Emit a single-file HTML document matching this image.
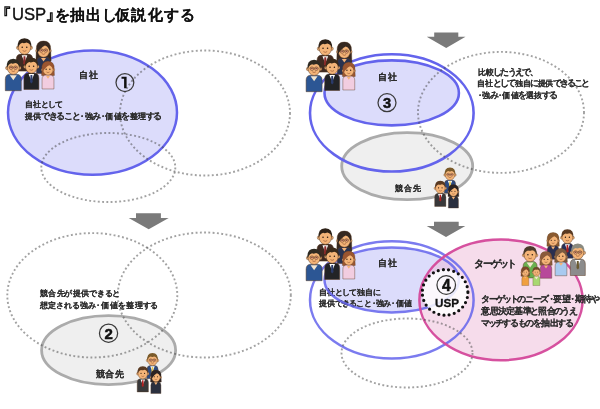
<!DOCTYPE html>
<html><head><meta charset="utf-8"><style>
html,body{margin:0;padding:0;background:#fff;width:600px;height:409px;overflow:hidden}
svg{display:block;font-family:"Liberation Sans", sans-serif;will-change:transform;filter:blur(0.35px)}
</style></head><body>
<svg width="600" height="409" viewBox="0 0 600 409">
<rect width="600" height="409" fill="#fff"/>
<text x="-6.60" y="22.44" font-size="18.5" font-weight="bold" fill="#111">『</text>
<text x="44.87" y="19.56" font-size="18.5" font-weight="bold" fill="#111">』</text>
<text x="12.0" y="20.4" font-size="16.5" fill="#111" font-family="'Liberation Sans', sans-serif" textLength="34.2" lengthAdjust="spacingAndGlyphs" stroke="#111" stroke-width="0.35">USP</text>
<text x="55.03" y="20.3" font-size="14.6" font-weight="bold" fill="#111" stroke="#111" stroke-width="0.08">を</text>
<text x="70.00" y="20.3" font-size="14.6" font-weight="bold" fill="#111" stroke="#111" stroke-width="0.08">抽</text>
<text x="85.90" y="20.3" font-size="14.6" font-weight="bold" fill="#111" stroke="#111" stroke-width="0.08">出</text>
<text x="101.83" y="20.3" font-size="14.6" font-weight="bold" fill="#111" stroke="#111" stroke-width="0.08">し</text>
<text x="115.30" y="20.3" font-size="14.6" font-weight="bold" fill="#111" stroke="#111" stroke-width="0.08">仮</text>
<text x="130.50" y="20.3" font-size="14.6" font-weight="bold" fill="#111" stroke="#111" stroke-width="0.08">説</text>
<text x="148.00" y="20.3" font-size="14.6" font-weight="bold" fill="#111" stroke="#111" stroke-width="0.08">化</text>
<text x="164.13" y="20.3" font-size="14.6" font-weight="bold" fill="#111" stroke="#111" stroke-width="0.08">す</text>
<text x="180.03" y="20.3" font-size="14.6" font-weight="bold" fill="#111" stroke="#111" stroke-width="0.08">る</text>
<ellipse cx="92.5" cy="112.6" rx="84.5" ry="62.2" fill="#dcdcfb" stroke="#6464ec" stroke-width="2.5" />
<ellipse cx="205" cy="113" rx="85" ry="62.5" fill="none" stroke="rgba(70,70,70,0.5)" stroke-width="1.9" stroke-dasharray="1.9 2.4"/>
<ellipse cx="108.3" cy="167.5" rx="67" ry="34.5" fill="none" stroke="rgba(70,70,70,0.5)" stroke-width="1.9" stroke-dasharray="1.9 2.4"/>
<text y="77.89" font-size="9.26" fill="#2c2c2c" stroke="#2c2c2c" stroke-width="0.05" font-weight="bold" ><tspan x="79.00">自</tspan><tspan x="88.63">社</tspan></text>
<text y="107.24" font-size="7.88" fill="#2c2c2c" stroke="#2c2c2c" stroke-width="0.05" font-weight="bold" ><tspan x="25.38">自</tspan><tspan x="33.40">社</tspan><tspan x="40.72" font-size="8.28" dy="0">と</tspan><tspan x="47.93" font-size="8.28" dy="0">し</tspan><tspan x="55.14" font-size="8.28" dy="0">て</tspan></text>
<text y="119.01" font-size="8.45" fill="#2c2c2c" stroke="#2c2c2c" stroke-width="0.05" font-weight="bold" ><tspan x="24.99">提</tspan><tspan x="33.43">供</tspan><tspan x="41.14" font-size="8.87" dy="0">で</tspan><tspan x="48.74" font-size="8.87" dy="0">き</tspan><tspan x="56.33" font-size="8.87" dy="0">る</tspan><tspan x="63.93" font-size="8.87" dy="0">こ</tspan><tspan x="71.53" font-size="8.87" dy="0">と</tspan><tspan x="77.97">・</tspan><tspan x="84.51">強</tspan><tspan x="92.21" font-size="8.87" dy="0">み</tspan><tspan x="98.65">・</tspan><tspan x="105.19">価</tspan><tspan x="113.63">値</tspan><tspan x="121.34" font-size="8.87" dy="0">を</tspan><tspan x="129.67">整</tspan><tspan x="138.12">理</tspan><tspan x="145.82" font-size="8.87" dy="0">す</tspan><tspan x="153.42" font-size="8.87" dy="0">る</tspan></text>
<circle cx="124.9" cy="82.6" r="8.9" fill="none" stroke="#3a3a3a" stroke-width="1.25"/>
<path d="M121.5,76.7 H126.6 V88.3 H124.1 V78.8 H121.5 Z" fill="#111"/>
<g transform="translate(24.50,46.90) scale(1.03)"><path d="M-8.0,23.5 V12 Q-8.0,7 -3.0,7 H3.0 Q8.0,7 8.0,12 V23.5 Z" fill="#3e2a22" stroke="#5a3a22" stroke-width="0.5"/><path d="M-2.8,8 L0,15 L2.8,8 Z" fill="#fff"/><path d="M-0.9,9 H0.9 L1.3,16 L0,17.5 L-1.3,16 Z" fill="#8a2a2a"/><circle cx="-6" cy="0.8" r="1.8" fill="#f4b478" stroke="#5a3a22" stroke-width="0.4"/><circle cx="6" cy="0.8" r="1.8" fill="#f4b478" stroke="#5a3a22" stroke-width="0.4"/><ellipse cx="0" cy="0.5" rx="6" ry="6.8" fill="#f4b478" stroke="#5a3a22" stroke-width="0.5"/><path d="M-6.6,1.5 Q-7.6,-8.5 0,-8.5 Q7.6,-8.5 6.6,1.5 Q6,-3.5 2,-4.2 Q-1,-3 -2,-4 Q-5.5,-3 -6.6,1.5 Z" fill="#2e2218"/><circle cx="-2.2" cy="0.3" r="0.75" fill="#2a1a10"/><circle cx="2.2" cy="0.3" r="0.75" fill="#2a1a10"/><path d="M-1.8,3.6 Q0,5 1.8,3.6" stroke="#8a4a2a" stroke-width="0.6" fill="none"/></g><g transform="translate(43.50,50.00) scale(1.0)"><path d="M-7.2,0 Q-7.8,-9 0,-9 Q7.8,-9 7.2,0 L7.6,11 H-7.6 Z" fill="#352820" stroke="#5a3a22" stroke-width="0.4"/><path d="M-7.0,23.5 V12 Q-7.0,7 -2.0,7 H2.0 Q7.0,7 7.0,12 V23.5 Z" fill="#2a3350" stroke="#5a3a22" stroke-width="0.5"/><path d="M-2.5,8 L0,11.5 L2.5,8 Z" fill="#f4b478"/><circle cx="-6" cy="0.8" r="1.8" fill="#f4b478" stroke="#5a3a22" stroke-width="0.4"/><circle cx="6" cy="0.8" r="1.8" fill="#f4b478" stroke="#5a3a22" stroke-width="0.4"/><ellipse cx="0" cy="0.5" rx="6" ry="6.8" fill="#f4b478" stroke="#5a3a22" stroke-width="0.5"/><path d="M-6.8,4 Q-7.6,-8.8 0,-8.8 Q7.6,-8.8 6.8,4 Q6,-3 1.5,-4.5 Q-3,-2.5 -6.8,4 Z" fill="#352820"/><circle cx="-2.2" cy="0.3" r="0.75" fill="#2a1a10"/><circle cx="2.2" cy="0.3" r="0.75" fill="#2a1a10"/><path d="M-4.5,0 H4.5" stroke="#6a4a2a" stroke-width="0.6"/><circle cx="-2.2" cy="0.5" r="1.8" fill="rgba(255,150,150,0.3)" stroke="#6a4a2a" stroke-width="0.6"/><circle cx="2.2" cy="0.5" r="1.8" fill="rgba(255,150,150,0.3)" stroke="#6a4a2a" stroke-width="0.6"/><path d="M-1.8,3.6 Q0,5 1.8,3.6" stroke="#8a4a2a" stroke-width="0.6" fill="none"/></g><g transform="translate(13.30,67.20) scale(1.0)"><path d="M-8.0,23.5 V12 Q-8.0,7 -3.0,7 H3.0 Q8.0,7 8.0,12 V23.5 Z" fill="#2c5694" stroke="#5a3a22" stroke-width="0.5"/><path d="M-3.5,8 L0,13 L3.5,8 Z" fill="#f4e6d0"/><circle cx="-6" cy="0.8" r="1.8" fill="#f4b478" stroke="#5a3a22" stroke-width="0.4"/><circle cx="6" cy="0.8" r="1.8" fill="#f4b478" stroke="#5a3a22" stroke-width="0.4"/><ellipse cx="0" cy="0.5" rx="6" ry="6.8" fill="#f4b478" stroke="#5a3a22" stroke-width="0.5"/><path d="M-6.6,1.5 Q-7.6,-8.5 0,-8.5 Q7.6,-8.5 6.6,1.5 Q6,-3.5 2,-4.2 Q-1,-3 -2,-4 Q-5.5,-3 -6.6,1.5 Z" fill="#2e2a22"/><circle cx="-2.2" cy="0.3" r="0.75" fill="#2a1a10"/><circle cx="2.2" cy="0.3" r="0.75" fill="#2a1a10"/><path d="M-4.5,0 H4.5" stroke="#6a4a2a" stroke-width="0.6"/><circle cx="-2.2" cy="0.5" r="1.8" fill="rgba(255,150,150,0.3)" stroke="#6a4a2a" stroke-width="0.6"/><circle cx="2.2" cy="0.5" r="1.8" fill="rgba(255,150,150,0.3)" stroke="#6a4a2a" stroke-width="0.6"/><path d="M-1.8,3.6 Q0,5 1.8,3.6" stroke="#8a4a2a" stroke-width="0.6" fill="none"/></g><g transform="translate(31.40,66.00) scale(1.0)"><path d="M-7.5,23.5 V12 Q-7.5,7 -2.5,7 H2.5 Q7.5,7 7.5,12 V23.5 Z" fill="#222326" stroke="#5a3a22" stroke-width="0.5"/><path d="M-2.8,8 L0,15 L2.8,8 Z" fill="#fff"/><path d="M-0.9,9 H0.9 L1.3,16 L0,17.5 L-1.3,16 Z" fill="#2a3a6a"/><circle cx="-6" cy="0.8" r="1.8" fill="#f4b478" stroke="#5a3a22" stroke-width="0.4"/><circle cx="6" cy="0.8" r="1.8" fill="#f4b478" stroke="#5a3a22" stroke-width="0.4"/><ellipse cx="0" cy="0.5" rx="6" ry="6.8" fill="#f4b478" stroke="#5a3a22" stroke-width="0.5"/><path d="M-6.6,1.5 Q-7.6,-8.5 0,-8.5 Q7.6,-8.5 6.6,1.5 Q6,-3.5 2,-4.2 Q-1,-3 -2,-4 Q-5.5,-3 -6.6,1.5 Z" fill="#3a2a1a"/><circle cx="-2.2" cy="0.3" r="0.75" fill="#2a1a10"/><circle cx="2.2" cy="0.3" r="0.75" fill="#2a1a10"/><path d="M-1.8,3.6 Q0,5 1.8,3.6" stroke="#8a4a2a" stroke-width="0.6" fill="none"/></g><g transform="translate(48.00,69.00) scale(0.85)"><path d="M-7.2,0 Q-7.8,-9 0,-9 Q7.8,-9 7.2,0 L7.6,7.5 Q0,9 -7.6,7.5 Z" fill="#9a5530" stroke="#5a3a22" stroke-width="0.4"/><path d="M-7.0,23.5 V12 Q-7.0,7 -2.0,7 H2.0 Q7.0,7 7.0,12 V23.5 Z" fill="#f2cde0" stroke="#5a3a22" stroke-width="0.5"/><path d="M-2.5,8 L0,11.5 L2.5,8 Z" fill="#f4b478"/><circle cx="-6" cy="0.8" r="1.8" fill="#f4b478" stroke="#5a3a22" stroke-width="0.4"/><circle cx="6" cy="0.8" r="1.8" fill="#f4b478" stroke="#5a3a22" stroke-width="0.4"/><ellipse cx="0" cy="0.5" rx="6" ry="6.8" fill="#f4b478" stroke="#5a3a22" stroke-width="0.5"/><path d="M-6.8,4 Q-7.6,-8.8 0,-8.8 Q7.6,-8.8 6.8,4 Q6,-3 1.5,-4.5 Q-3,-2.5 -6.8,4 Z" fill="#9a5530"/><circle cx="-2.2" cy="0.3" r="0.75" fill="#2a1a10"/><circle cx="2.2" cy="0.3" r="0.75" fill="#2a1a10"/><path d="M-1.8,3.6 Q0,5 1.8,3.6" stroke="#8a4a2a" stroke-width="0.6" fill="none"/></g>
<path d="M434.2,32.5 H458.3 V36.7 H465.5 L446.2,48 L426.7,36.7 H434.2 Z" fill="#7a7a7a"/>
<path d="M136,213.3 H160.9 V218 H168.7 L148.7,229.3 L128.7,218 H136 Z" fill="#7a7a7a"/>
<path d="M434,221.7 H458.7 V226 H465.3 L446,237 L426.7,226 H434 Z" fill="#7a7a7a"/>
<ellipse cx="407.2" cy="166.2" rx="65.5" ry="33.5" fill="#efefef" stroke="#ababab" stroke-width="2.8" />
<ellipse cx="391.7" cy="92.9" rx="67.2" ry="32.5" fill="#dcdcfb" stroke="#6464ec" stroke-width="2.6" />
<ellipse cx="391.8" cy="112.9" rx="81.8" ry="58.6" fill="none" stroke="#6464ec" stroke-width="2.6" />
<ellipse cx="501" cy="112.4" rx="83" ry="60.5" fill="none" stroke="rgba(70,70,70,0.5)" stroke-width="1.9" stroke-dasharray="1.9 2.4"/>
<text y="79.88" font-size="9.49" fill="#2c2c2c" stroke="#2c2c2c" stroke-width="0.05" font-weight="bold" ><tspan x="377.80">自</tspan><tspan x="387.56">社</tspan></text>
<circle cx="387" cy="102.7" r="9.0" fill="none" stroke="#3a3a3a" stroke-width="1.25"/><text x="387" y="107.96" font-size="14.6" font-weight="bold" text-anchor="middle" fill="#111" stroke="#111" stroke-width="0.5" font-family="'Liberation Sans', sans-serif">3</text>
<text y="191.26" font-size="8.26" fill="#2c2c2c" stroke="#2c2c2c" stroke-width="0.05" font-weight="bold" ><tspan x="394.74">競</tspan><tspan x="404.12">合</tspan><tspan x="413.49">先</tspan></text>
<text y="75.12" font-size="8.33" fill="#2c2c2c" stroke="#2c2c2c" stroke-width="0.05" font-weight="bold" ><tspan x="477.59">比</tspan><tspan x="485.66">較</tspan><tspan x="493.03" font-size="8.75" dy="0">し</tspan><tspan x="500.29" font-size="8.75" dy="0">た</tspan><tspan x="507.56" font-size="8.75" dy="0">う</tspan><tspan x="514.83" font-size="8.75" dy="0">え</tspan><tspan x="522.10" font-size="8.75" dy="0">で</tspan><tspan x="529.80">、</tspan></text>
<text y="86.31" font-size="8.45" fill="#2c2c2c" stroke="#2c2c2c" stroke-width="0.05" font-weight="bold" ><tspan x="477.45">自</tspan><tspan x="485.36">社</tspan><tspan x="492.55" font-size="8.87" dy="0">と</tspan><tspan x="499.67" font-size="8.87" dy="0">し</tspan><tspan x="506.78" font-size="8.87" dy="0">て</tspan><tspan x="514.60">独</tspan><tspan x="522.51">自</tspan><tspan x="529.70" font-size="8.87" dy="0">に</tspan><tspan x="537.53">提</tspan><tspan x="545.43">供</tspan><tspan x="552.62" font-size="8.87" dy="0">で</tspan><tspan x="559.74" font-size="8.87" dy="0">き</tspan><tspan x="566.85" font-size="8.87" dy="0">る</tspan><tspan x="573.96" font-size="8.87" dy="0">こ</tspan><tspan x="581.08" font-size="8.87" dy="0">と</tspan></text>
<text y="98.13" font-size="8.11" fill="#2c2c2c" stroke="#2c2c2c" stroke-width="0.05" font-weight="bold" ><tspan x="475.91">・</tspan><tspan x="482.26">強</tspan><tspan x="489.74" font-size="8.51" dy="0">み</tspan><tspan x="495.98">・</tspan><tspan x="502.33">価</tspan><tspan x="510.53">値</tspan><tspan x="518.01" font-size="8.51" dy="0">を</tspan><tspan x="526.10">選</tspan><tspan x="534.29">抜</tspan><tspan x="541.77" font-size="8.51" dy="0">す</tspan><tspan x="549.15" font-size="8.51" dy="0">る</tspan></text>
<g transform="translate(325.30,47.90) scale(1.03)"><path d="M-8.0,23.5 V12 Q-8.0,7 -3.0,7 H3.0 Q8.0,7 8.0,12 V23.5 Z" fill="#3e2a22" stroke="#5a3a22" stroke-width="0.5"/><path d="M-2.8,8 L0,15 L2.8,8 Z" fill="#fff"/><path d="M-0.9,9 H0.9 L1.3,16 L0,17.5 L-1.3,16 Z" fill="#8a2a2a"/><circle cx="-6" cy="0.8" r="1.8" fill="#f4b478" stroke="#5a3a22" stroke-width="0.4"/><circle cx="6" cy="0.8" r="1.8" fill="#f4b478" stroke="#5a3a22" stroke-width="0.4"/><ellipse cx="0" cy="0.5" rx="6" ry="6.8" fill="#f4b478" stroke="#5a3a22" stroke-width="0.5"/><path d="M-6.6,1.5 Q-7.6,-8.5 0,-8.5 Q7.6,-8.5 6.6,1.5 Q6,-3.5 2,-4.2 Q-1,-3 -2,-4 Q-5.5,-3 -6.6,1.5 Z" fill="#2e2218"/><circle cx="-2.2" cy="0.3" r="0.75" fill="#2a1a10"/><circle cx="2.2" cy="0.3" r="0.75" fill="#2a1a10"/><path d="M-1.8,3.6 Q0,5 1.8,3.6" stroke="#8a4a2a" stroke-width="0.6" fill="none"/></g><g transform="translate(344.30,51.00) scale(1.0)"><path d="M-7.2,0 Q-7.8,-9 0,-9 Q7.8,-9 7.2,0 L7.6,11 H-7.6 Z" fill="#352820" stroke="#5a3a22" stroke-width="0.4"/><path d="M-7.0,23.5 V12 Q-7.0,7 -2.0,7 H2.0 Q7.0,7 7.0,12 V23.5 Z" fill="#2a3350" stroke="#5a3a22" stroke-width="0.5"/><path d="M-2.5,8 L0,11.5 L2.5,8 Z" fill="#f4b478"/><circle cx="-6" cy="0.8" r="1.8" fill="#f4b478" stroke="#5a3a22" stroke-width="0.4"/><circle cx="6" cy="0.8" r="1.8" fill="#f4b478" stroke="#5a3a22" stroke-width="0.4"/><ellipse cx="0" cy="0.5" rx="6" ry="6.8" fill="#f4b478" stroke="#5a3a22" stroke-width="0.5"/><path d="M-6.8,4 Q-7.6,-8.8 0,-8.8 Q7.6,-8.8 6.8,4 Q6,-3 1.5,-4.5 Q-3,-2.5 -6.8,4 Z" fill="#352820"/><circle cx="-2.2" cy="0.3" r="0.75" fill="#2a1a10"/><circle cx="2.2" cy="0.3" r="0.75" fill="#2a1a10"/><path d="M-4.5,0 H4.5" stroke="#6a4a2a" stroke-width="0.6"/><circle cx="-2.2" cy="0.5" r="1.8" fill="rgba(255,150,150,0.3)" stroke="#6a4a2a" stroke-width="0.6"/><circle cx="2.2" cy="0.5" r="1.8" fill="rgba(255,150,150,0.3)" stroke="#6a4a2a" stroke-width="0.6"/><path d="M-1.8,3.6 Q0,5 1.8,3.6" stroke="#8a4a2a" stroke-width="0.6" fill="none"/></g><g transform="translate(314.10,68.20) scale(1.0)"><path d="M-8.0,23.5 V12 Q-8.0,7 -3.0,7 H3.0 Q8.0,7 8.0,12 V23.5 Z" fill="#2c5694" stroke="#5a3a22" stroke-width="0.5"/><path d="M-3.5,8 L0,13 L3.5,8 Z" fill="#f4e6d0"/><circle cx="-6" cy="0.8" r="1.8" fill="#f4b478" stroke="#5a3a22" stroke-width="0.4"/><circle cx="6" cy="0.8" r="1.8" fill="#f4b478" stroke="#5a3a22" stroke-width="0.4"/><ellipse cx="0" cy="0.5" rx="6" ry="6.8" fill="#f4b478" stroke="#5a3a22" stroke-width="0.5"/><path d="M-6.6,1.5 Q-7.6,-8.5 0,-8.5 Q7.6,-8.5 6.6,1.5 Q6,-3.5 2,-4.2 Q-1,-3 -2,-4 Q-5.5,-3 -6.6,1.5 Z" fill="#2e2a22"/><circle cx="-2.2" cy="0.3" r="0.75" fill="#2a1a10"/><circle cx="2.2" cy="0.3" r="0.75" fill="#2a1a10"/><path d="M-4.5,0 H4.5" stroke="#6a4a2a" stroke-width="0.6"/><circle cx="-2.2" cy="0.5" r="1.8" fill="rgba(255,150,150,0.3)" stroke="#6a4a2a" stroke-width="0.6"/><circle cx="2.2" cy="0.5" r="1.8" fill="rgba(255,150,150,0.3)" stroke="#6a4a2a" stroke-width="0.6"/><path d="M-1.8,3.6 Q0,5 1.8,3.6" stroke="#8a4a2a" stroke-width="0.6" fill="none"/></g><g transform="translate(332.20,67.00) scale(1.0)"><path d="M-7.5,23.5 V12 Q-7.5,7 -2.5,7 H2.5 Q7.5,7 7.5,12 V23.5 Z" fill="#222326" stroke="#5a3a22" stroke-width="0.5"/><path d="M-2.8,8 L0,15 L2.8,8 Z" fill="#fff"/><path d="M-0.9,9 H0.9 L1.3,16 L0,17.5 L-1.3,16 Z" fill="#2a3a6a"/><circle cx="-6" cy="0.8" r="1.8" fill="#f4b478" stroke="#5a3a22" stroke-width="0.4"/><circle cx="6" cy="0.8" r="1.8" fill="#f4b478" stroke="#5a3a22" stroke-width="0.4"/><ellipse cx="0" cy="0.5" rx="6" ry="6.8" fill="#f4b478" stroke="#5a3a22" stroke-width="0.5"/><path d="M-6.6,1.5 Q-7.6,-8.5 0,-8.5 Q7.6,-8.5 6.6,1.5 Q6,-3.5 2,-4.2 Q-1,-3 -2,-4 Q-5.5,-3 -6.6,1.5 Z" fill="#3a2a1a"/><circle cx="-2.2" cy="0.3" r="0.75" fill="#2a1a10"/><circle cx="2.2" cy="0.3" r="0.75" fill="#2a1a10"/><path d="M-1.8,3.6 Q0,5 1.8,3.6" stroke="#8a4a2a" stroke-width="0.6" fill="none"/></g><g transform="translate(348.80,70.00) scale(0.85)"><path d="M-7.2,0 Q-7.8,-9 0,-9 Q7.8,-9 7.2,0 L7.6,7.5 Q0,9 -7.6,7.5 Z" fill="#9a5530" stroke="#5a3a22" stroke-width="0.4"/><path d="M-7.0,23.5 V12 Q-7.0,7 -2.0,7 H2.0 Q7.0,7 7.0,12 V23.5 Z" fill="#f2cde0" stroke="#5a3a22" stroke-width="0.5"/><path d="M-2.5,8 L0,11.5 L2.5,8 Z" fill="#f4b478"/><circle cx="-6" cy="0.8" r="1.8" fill="#f4b478" stroke="#5a3a22" stroke-width="0.4"/><circle cx="6" cy="0.8" r="1.8" fill="#f4b478" stroke="#5a3a22" stroke-width="0.4"/><ellipse cx="0" cy="0.5" rx="6" ry="6.8" fill="#f4b478" stroke="#5a3a22" stroke-width="0.5"/><path d="M-6.8,4 Q-7.6,-8.8 0,-8.8 Q7.6,-8.8 6.8,4 Q6,-3 1.5,-4.5 Q-3,-2.5 -6.8,4 Z" fill="#9a5530"/><circle cx="-2.2" cy="0.3" r="0.75" fill="#2a1a10"/><circle cx="2.2" cy="0.3" r="0.75" fill="#2a1a10"/><path d="M-1.8,3.6 Q0,5 1.8,3.6" stroke="#8a4a2a" stroke-width="0.6" fill="none"/></g>
<g transform="translate(450.00,174.30) scale(0.8)"><path d="M-7.0,23.5 V12 Q-7.0,7 -2.0,7 H2.0 Q7.0,7 7.0,12 V23.5 Z" fill="#2c4a80" stroke="#5a3a22" stroke-width="0.5"/><path d="M-2.8,8 L0,15 L2.8,8 Z" fill="#fff"/><path d="M-0.9,9 H0.9 L1.3,16 L0,17.5 L-1.3,16 Z" fill="#e8c850"/><circle cx="-6" cy="0.8" r="1.8" fill="#f4b478" stroke="#5a3a22" stroke-width="0.4"/><circle cx="6" cy="0.8" r="1.8" fill="#f4b478" stroke="#5a3a22" stroke-width="0.4"/><ellipse cx="0" cy="0.5" rx="6" ry="6.8" fill="#f4b478" stroke="#5a3a22" stroke-width="0.5"/><path d="M-6.6,1.5 Q-7.6,-8.5 0,-8.5 Q7.6,-8.5 6.6,1.5 Q6,-3.5 2,-4.2 Q-1,-3 -2,-4 Q-5.5,-3 -6.6,1.5 Z" fill="#7a5a2a"/><circle cx="-2.2" cy="0.3" r="0.75" fill="#2a1a10"/><circle cx="2.2" cy="0.3" r="0.75" fill="#2a1a10"/><path d="M-4.5,0 H4.5" stroke="#6a4a2a" stroke-width="0.6"/><circle cx="-2.2" cy="0.5" r="1.8" fill="rgba(255,150,150,0.3)" stroke="#6a4a2a" stroke-width="0.6"/><circle cx="2.2" cy="0.5" r="1.8" fill="rgba(255,150,150,0.3)" stroke="#6a4a2a" stroke-width="0.6"/><path d="M-1.8,3.6 Q0,5 1.8,3.6" stroke="#8a4a2a" stroke-width="0.6" fill="none"/></g><g transform="translate(440.30,187.60) scale(0.8)"><path d="M-7.0,23.5 V12 Q-7.0,7 -2.0,7 H2.0 Q7.0,7 7.0,12 V23.5 Z" fill="#38383a" stroke="#5a3a22" stroke-width="0.5"/><path d="M-2.8,8 L0,15 L2.8,8 Z" fill="#fff"/><path d="M-0.9,9 H0.9 L1.3,16 L0,17.5 L-1.3,16 Z" fill="#b02020"/><circle cx="-6" cy="0.8" r="1.8" fill="#f4b478" stroke="#5a3a22" stroke-width="0.4"/><circle cx="6" cy="0.8" r="1.8" fill="#f4b478" stroke="#5a3a22" stroke-width="0.4"/><ellipse cx="0" cy="0.5" rx="6" ry="6.8" fill="#f4b478" stroke="#5a3a22" stroke-width="0.5"/><path d="M-6.6,1.5 Q-7.6,-8.5 0,-8.5 Q7.6,-8.5 6.6,1.5 Q6,-3.5 2,-4.2 Q-1,-3 -2,-4 Q-5.5,-3 -6.6,1.5 Z" fill="#5a3a22"/><circle cx="-2.2" cy="0.3" r="0.75" fill="#2a1a10"/><circle cx="2.2" cy="0.3" r="0.75" fill="#2a1a10"/><path d="M-1.8,3.6 Q0,5 1.8,3.6" stroke="#8a4a2a" stroke-width="0.6" fill="none"/></g><g transform="translate(453.40,191.10) scale(0.72)"><path d="M-7.2,0 Q-7.8,-9 0,-9 Q7.8,-9 7.2,0 L7.6,7.5 Q0,9 -7.6,7.5 Z" fill="#2a2222" stroke="#5a3a22" stroke-width="0.4"/><path d="M-7.0,23.5 V12 Q-7.0,7 -2.0,7 H2.0 Q7.0,7 7.0,12 V23.5 Z" fill="#2a2f3e" stroke="#5a3a22" stroke-width="0.5"/><path d="M-2.5,8 L0,11.5 L2.5,8 Z" fill="#f4b478"/><circle cx="-6" cy="0.8" r="1.8" fill="#f4b478" stroke="#5a3a22" stroke-width="0.4"/><circle cx="6" cy="0.8" r="1.8" fill="#f4b478" stroke="#5a3a22" stroke-width="0.4"/><ellipse cx="0" cy="0.5" rx="6" ry="6.8" fill="#f4b478" stroke="#5a3a22" stroke-width="0.5"/><path d="M-6.8,4 Q-7.6,-8.8 0,-8.8 Q7.6,-8.8 6.8,4 Q6,-3 1.5,-4.5 Q-3,-2.5 -6.8,4 Z" fill="#2a2222"/><circle cx="-2.2" cy="0.3" r="0.75" fill="#2a1a10"/><circle cx="2.2" cy="0.3" r="0.75" fill="#2a1a10"/><path d="M-1.8,3.6 Q0,5 1.8,3.6" stroke="#8a4a2a" stroke-width="0.6" fill="none"/></g>
<ellipse cx="108.6" cy="350.2" rx="67" ry="34.5" fill="#efefef" stroke="#ababab" stroke-width="2.8" />
<ellipse cx="92.3" cy="295.3" rx="85" ry="62.2" fill="none" stroke="rgba(70,70,70,0.5)" stroke-width="1.9" stroke-dasharray="1.9 2.4"/>
<ellipse cx="204.3" cy="295" rx="86.5" ry="62.5" fill="none" stroke="rgba(70,70,70,0.5)" stroke-width="1.9" stroke-dasharray="1.9 2.4"/>
<text y="296.04" font-size="7.88" fill="#2c2c2c" stroke="#2c2c2c" stroke-width="0.05" font-weight="bold" ><tspan x="39.61">競</tspan><tspan x="48.14">合</tspan><tspan x="56.67">先</tspan><tspan x="64.48" font-size="8.28" dy="0">が</tspan><tspan x="72.87">提</tspan><tspan x="81.40">供</tspan><tspan x="89.21" font-size="8.28" dy="0">で</tspan><tspan x="96.89" font-size="8.28" dy="0">き</tspan><tspan x="104.56" font-size="8.28" dy="0">る</tspan><tspan x="112.24" font-size="8.28" dy="0">と</tspan></text>
<text y="307.54" font-size="7.88" fill="#2c2c2c" stroke="#2c2c2c" stroke-width="0.05" font-weight="bold" ><tspan x="39.64">想</tspan><tspan x="48.24">定</tspan><tspan x="56.12" font-size="8.28" dy="0">さ</tspan><tspan x="63.86" font-size="8.28" dy="0">れ</tspan><tspan x="71.60" font-size="8.28" dy="0">る</tspan><tspan x="80.07">強</tspan><tspan x="87.95" font-size="8.28" dy="0">み</tspan><tspan x="94.48">・</tspan><tspan x="101.14">価</tspan><tspan x="109.75">値</tspan><tspan x="117.62" font-size="8.28" dy="0">を</tspan><tspan x="126.09">整</tspan><tspan x="134.69">理</tspan><tspan x="142.57" font-size="8.28" dy="0">す</tspan><tspan x="150.31" font-size="8.28" dy="0">る</tspan></text>
<circle cx="108.55" cy="333.2" r="9.1" fill="none" stroke="#3a3a3a" stroke-width="1.25"/><text x="108.55" y="339.00" font-size="15.0" font-weight="bold" text-anchor="middle" fill="#111" stroke="#111" stroke-width="0.5" font-family="'Liberation Sans', sans-serif">2</text>
<text y="376.51" font-size="9.05" fill="#2c2c2c" stroke="#2c2c2c" stroke-width="0.05" font-weight="bold" ><tspan x="95.85">競</tspan><tspan x="105.22">合</tspan><tspan x="114.60">先</tspan></text>
<g transform="translate(152.50,359.80) scale(0.8)"><path d="M-7.0,23.5 V12 Q-7.0,7 -2.0,7 H2.0 Q7.0,7 7.0,12 V23.5 Z" fill="#2c4a80" stroke="#5a3a22" stroke-width="0.5"/><path d="M-2.8,8 L0,15 L2.8,8 Z" fill="#fff"/><path d="M-0.9,9 H0.9 L1.3,16 L0,17.5 L-1.3,16 Z" fill="#e8c850"/><circle cx="-6" cy="0.8" r="1.8" fill="#f4b478" stroke="#5a3a22" stroke-width="0.4"/><circle cx="6" cy="0.8" r="1.8" fill="#f4b478" stroke="#5a3a22" stroke-width="0.4"/><ellipse cx="0" cy="0.5" rx="6" ry="6.8" fill="#f4b478" stroke="#5a3a22" stroke-width="0.5"/><path d="M-6.6,1.5 Q-7.6,-8.5 0,-8.5 Q7.6,-8.5 6.6,1.5 Q6,-3.5 2,-4.2 Q-1,-3 -2,-4 Q-5.5,-3 -6.6,1.5 Z" fill="#7a5a2a"/><circle cx="-2.2" cy="0.3" r="0.75" fill="#2a1a10"/><circle cx="2.2" cy="0.3" r="0.75" fill="#2a1a10"/><path d="M-4.5,0 H4.5" stroke="#6a4a2a" stroke-width="0.6"/><circle cx="-2.2" cy="0.5" r="1.8" fill="rgba(255,150,150,0.3)" stroke="#6a4a2a" stroke-width="0.6"/><circle cx="2.2" cy="0.5" r="1.8" fill="rgba(255,150,150,0.3)" stroke="#6a4a2a" stroke-width="0.6"/><path d="M-1.8,3.6 Q0,5 1.8,3.6" stroke="#8a4a2a" stroke-width="0.6" fill="none"/></g><g transform="translate(142.80,373.10) scale(0.8)"><path d="M-7.0,23.5 V12 Q-7.0,7 -2.0,7 H2.0 Q7.0,7 7.0,12 V23.5 Z" fill="#38383a" stroke="#5a3a22" stroke-width="0.5"/><path d="M-2.8,8 L0,15 L2.8,8 Z" fill="#fff"/><path d="M-0.9,9 H0.9 L1.3,16 L0,17.5 L-1.3,16 Z" fill="#b02020"/><circle cx="-6" cy="0.8" r="1.8" fill="#f4b478" stroke="#5a3a22" stroke-width="0.4"/><circle cx="6" cy="0.8" r="1.8" fill="#f4b478" stroke="#5a3a22" stroke-width="0.4"/><ellipse cx="0" cy="0.5" rx="6" ry="6.8" fill="#f4b478" stroke="#5a3a22" stroke-width="0.5"/><path d="M-6.6,1.5 Q-7.6,-8.5 0,-8.5 Q7.6,-8.5 6.6,1.5 Q6,-3.5 2,-4.2 Q-1,-3 -2,-4 Q-5.5,-3 -6.6,1.5 Z" fill="#5a3a22"/><circle cx="-2.2" cy="0.3" r="0.75" fill="#2a1a10"/><circle cx="2.2" cy="0.3" r="0.75" fill="#2a1a10"/><path d="M-1.8,3.6 Q0,5 1.8,3.6" stroke="#8a4a2a" stroke-width="0.6" fill="none"/></g><g transform="translate(155.90,376.60) scale(0.72)"><path d="M-7.2,0 Q-7.8,-9 0,-9 Q7.8,-9 7.2,0 L7.6,7.5 Q0,9 -7.6,7.5 Z" fill="#2a2222" stroke="#5a3a22" stroke-width="0.4"/><path d="M-7.0,23.5 V12 Q-7.0,7 -2.0,7 H2.0 Q7.0,7 7.0,12 V23.5 Z" fill="#2a2f3e" stroke="#5a3a22" stroke-width="0.5"/><path d="M-2.5,8 L0,11.5 L2.5,8 Z" fill="#f4b478"/><circle cx="-6" cy="0.8" r="1.8" fill="#f4b478" stroke="#5a3a22" stroke-width="0.4"/><circle cx="6" cy="0.8" r="1.8" fill="#f4b478" stroke="#5a3a22" stroke-width="0.4"/><ellipse cx="0" cy="0.5" rx="6" ry="6.8" fill="#f4b478" stroke="#5a3a22" stroke-width="0.5"/><path d="M-6.8,4 Q-7.6,-8.8 0,-8.8 Q7.6,-8.8 6.8,4 Q6,-3 1.5,-4.5 Q-3,-2.5 -6.8,4 Z" fill="#2a2222"/><circle cx="-2.2" cy="0.3" r="0.75" fill="#2a1a10"/><circle cx="2.2" cy="0.3" r="0.75" fill="#2a1a10"/><path d="M-1.8,3.6 Q0,5 1.8,3.6" stroke="#8a4a2a" stroke-width="0.6" fill="none"/></g>
<ellipse cx="391.7" cy="279.9" rx="67.2" ry="32.5" fill="#dcdcfb" stroke="none" stroke-width="0" />
<text y="266.49" font-size="9.26" fill="#2c2c2c" stroke="#2c2c2c" stroke-width="0.05" font-weight="bold" ><tspan x="378.33">自</tspan><tspan x="387.80">社</tspan></text>
<text y="295.04" font-size="7.88" fill="#2c2c2c" stroke="#2c2c2c" stroke-width="0.05" font-weight="bold" ><tspan x="319.12">自</tspan><tspan x="327.20">社</tspan><tspan x="334.59" font-size="8.28" dy="0">と</tspan><tspan x="341.87" font-size="8.28" dy="0">し</tspan><tspan x="349.15" font-size="8.28" dy="0">て</tspan><tspan x="357.13">独</tspan><tspan x="365.22">自</tspan><tspan x="372.61" font-size="8.28" dy="0">に</tspan></text>
<text y="306.04" font-size="7.88" fill="#2c2c2c" stroke="#2c2c2c" stroke-width="0.05" font-weight="bold" ><tspan x="319.11">提</tspan><tspan x="327.17">供</tspan><tspan x="334.54" font-size="8.28" dy="0">で</tspan><tspan x="341.80" font-size="8.28" dy="0">き</tspan><tspan x="349.06" font-size="8.28" dy="0">る</tspan><tspan x="356.32" font-size="8.28" dy="0">こ</tspan><tspan x="363.58" font-size="8.28" dy="0">と</tspan><tspan x="369.73">・</tspan><tspan x="375.98">強</tspan><tspan x="383.35" font-size="8.28" dy="0">み</tspan><tspan x="389.49">・</tspan><tspan x="395.74">価</tspan><tspan x="403.81">値</tspan></text>
<ellipse cx="501" cy="299.9" rx="81.6" ry="60.4" fill="rgba(238,185,215,0.5)" stroke="none" stroke-width="0" />
<ellipse cx="391.7" cy="279.9" rx="67.2" ry="32.5" fill="none" stroke="#6464ec" stroke-width="2.5" stroke-opacity="0.85"/>
<ellipse cx="391.8" cy="299.9" rx="81.8" ry="58.6" fill="none" stroke="#6464ec" stroke-width="2.5" stroke-opacity="0.85"/>
<ellipse cx="501" cy="299.9" rx="81.6" ry="60.4" fill="none" stroke="#d4489a" stroke-width="2.5" stroke-opacity="0.95"/>
<ellipse cx="407" cy="353" rx="65.5" ry="34.5" fill="none" stroke="rgba(70,70,70,0.5)" stroke-width="1.9" stroke-dasharray="1.9 2.4"/>
<circle cx="445.1" cy="292.4" r="22.8" fill="rgba(255,255,255,0.84)" stroke="#111" stroke-width="3.2" stroke-dasharray="0 5.25" stroke-linecap="round"/>
<circle cx="446.25" cy="285" r="9.3" fill="none" stroke="#3a3a3a" stroke-width="1.25"/><text x="446.25" y="290.62" font-size="15.6" font-weight="bold" text-anchor="middle" fill="#111" stroke="#111" stroke-width="0.5" font-family="'Liberation Sans', sans-serif">4</text>
<text x="435.0" y="307.2" font-size="11.5" font-weight="bold" fill="#111" stroke="#111" stroke-width="0.3" font-family="'Liberation Sans', sans-serif" textLength="24" lengthAdjust="spacingAndGlyphs">USP</text>
<text y="267.27" font-size="9.73" fill="#2c2c2c" stroke="#2c2c2c" stroke-width="0.05" font-weight="bold" ><tspan x="473.99" font-size="10.21" dy="0">タ</tspan><tspan x="482.93">ー</tspan><tspan x="491.14" font-size="10.21" dy="0">ゲ</tspan><tspan x="499.00" font-size="10.21" dy="0">ッ</tspan><tspan x="506.86" font-size="10.21" dy="0">ト</tspan></text>
<text y="302.30" font-size="8.67" fill="#2c2c2c" stroke="#2c2c2c" stroke-width="0.05" font-weight="bold" ><tspan x="480.73" font-size="9.11" dy="0">タ</tspan><tspan x="488.64">ー</tspan><tspan x="495.90" font-size="9.11" dy="0">ゲ</tspan><tspan x="502.86" font-size="9.11" dy="0">ッ</tspan><tspan x="509.81" font-size="9.11" dy="0">ト</tspan><tspan x="517.40" font-size="9.11" dy="0">の</tspan><tspan x="524.99" font-size="9.11" dy="0">ニ</tspan><tspan x="532.90">ー</tspan><tspan x="540.17" font-size="9.11" dy="0">ズ</tspan><tspan x="546.60">・</tspan><tspan x="553.14">要</tspan><tspan x="561.57">望</tspan><tspan x="568.10">・</tspan><tspan x="574.64">期</tspan><tspan x="583.07">待</tspan><tspan x="590.75" font-size="9.11" dy="0">や</tspan></text>
<text y="313.90" font-size="8.62" fill="#2c2c2c" stroke="#2c2c2c" stroke-width="0.05" font-weight="bold" ><tspan x="481.42">意</tspan><tspan x="489.66">思</tspan><tspan x="497.90">決</tspan><tspan x="506.14">定</tspan><tspan x="514.38">基</tspan><tspan x="522.62">準</tspan><tspan x="530.13" font-size="9.05" dy="0">と</tspan><tspan x="538.28">照</tspan><tspan x="546.52">合</tspan><tspan x="554.02" font-size="9.05" dy="0">の</tspan><tspan x="561.44" font-size="9.05" dy="0">う</tspan><tspan x="568.86" font-size="9.05" dy="0">え</tspan></text>
<text y="325.70" font-size="8.56" fill="#2c2c2c" stroke="#2c2c2c" stroke-width="0.05" font-weight="bold" ><tspan x="480.80" font-size="8.99" dy="0">マ</tspan><tspan x="487.79" font-size="8.99" dy="0">ッ</tspan><tspan x="494.78" font-size="8.99" dy="0">チ</tspan><tspan x="502.41" font-size="8.99" dy="0">す</tspan><tspan x="510.03" font-size="8.99" dy="0">る</tspan><tspan x="517.66" font-size="8.99" dy="0">も</tspan><tspan x="525.28" font-size="8.99" dy="0">の</tspan><tspan x="532.90" font-size="8.99" dy="0">を</tspan><tspan x="541.27">抽</tspan><tspan x="549.74">出</tspan><tspan x="557.47" font-size="8.99" dy="0">す</tspan><tspan x="565.10" font-size="8.99" dy="0">る</tspan></text>
<g transform="translate(325.30,236.90) scale(1.03)"><path d="M-8.0,23.5 V12 Q-8.0,7 -3.0,7 H3.0 Q8.0,7 8.0,12 V23.5 Z" fill="#3e2a22" stroke="#5a3a22" stroke-width="0.5"/><path d="M-2.8,8 L0,15 L2.8,8 Z" fill="#fff"/><path d="M-0.9,9 H0.9 L1.3,16 L0,17.5 L-1.3,16 Z" fill="#8a2a2a"/><circle cx="-6" cy="0.8" r="1.8" fill="#f4b478" stroke="#5a3a22" stroke-width="0.4"/><circle cx="6" cy="0.8" r="1.8" fill="#f4b478" stroke="#5a3a22" stroke-width="0.4"/><ellipse cx="0" cy="0.5" rx="6" ry="6.8" fill="#f4b478" stroke="#5a3a22" stroke-width="0.5"/><path d="M-6.6,1.5 Q-7.6,-8.5 0,-8.5 Q7.6,-8.5 6.6,1.5 Q6,-3.5 2,-4.2 Q-1,-3 -2,-4 Q-5.5,-3 -6.6,1.5 Z" fill="#2e2218"/><circle cx="-2.2" cy="0.3" r="0.75" fill="#2a1a10"/><circle cx="2.2" cy="0.3" r="0.75" fill="#2a1a10"/><path d="M-1.8,3.6 Q0,5 1.8,3.6" stroke="#8a4a2a" stroke-width="0.6" fill="none"/></g><g transform="translate(344.30,240.00) scale(1.0)"><path d="M-7.2,0 Q-7.8,-9 0,-9 Q7.8,-9 7.2,0 L7.6,11 H-7.6 Z" fill="#352820" stroke="#5a3a22" stroke-width="0.4"/><path d="M-7.0,23.5 V12 Q-7.0,7 -2.0,7 H2.0 Q7.0,7 7.0,12 V23.5 Z" fill="#2a3350" stroke="#5a3a22" stroke-width="0.5"/><path d="M-2.5,8 L0,11.5 L2.5,8 Z" fill="#f4b478"/><circle cx="-6" cy="0.8" r="1.8" fill="#f4b478" stroke="#5a3a22" stroke-width="0.4"/><circle cx="6" cy="0.8" r="1.8" fill="#f4b478" stroke="#5a3a22" stroke-width="0.4"/><ellipse cx="0" cy="0.5" rx="6" ry="6.8" fill="#f4b478" stroke="#5a3a22" stroke-width="0.5"/><path d="M-6.8,4 Q-7.6,-8.8 0,-8.8 Q7.6,-8.8 6.8,4 Q6,-3 1.5,-4.5 Q-3,-2.5 -6.8,4 Z" fill="#352820"/><circle cx="-2.2" cy="0.3" r="0.75" fill="#2a1a10"/><circle cx="2.2" cy="0.3" r="0.75" fill="#2a1a10"/><path d="M-4.5,0 H4.5" stroke="#6a4a2a" stroke-width="0.6"/><circle cx="-2.2" cy="0.5" r="1.8" fill="rgba(255,150,150,0.3)" stroke="#6a4a2a" stroke-width="0.6"/><circle cx="2.2" cy="0.5" r="1.8" fill="rgba(255,150,150,0.3)" stroke="#6a4a2a" stroke-width="0.6"/><path d="M-1.8,3.6 Q0,5 1.8,3.6" stroke="#8a4a2a" stroke-width="0.6" fill="none"/></g><g transform="translate(314.10,257.20) scale(1.0)"><path d="M-8.0,23.5 V12 Q-8.0,7 -3.0,7 H3.0 Q8.0,7 8.0,12 V23.5 Z" fill="#2c5694" stroke="#5a3a22" stroke-width="0.5"/><path d="M-3.5,8 L0,13 L3.5,8 Z" fill="#f4e6d0"/><circle cx="-6" cy="0.8" r="1.8" fill="#f4b478" stroke="#5a3a22" stroke-width="0.4"/><circle cx="6" cy="0.8" r="1.8" fill="#f4b478" stroke="#5a3a22" stroke-width="0.4"/><ellipse cx="0" cy="0.5" rx="6" ry="6.8" fill="#f4b478" stroke="#5a3a22" stroke-width="0.5"/><path d="M-6.6,1.5 Q-7.6,-8.5 0,-8.5 Q7.6,-8.5 6.6,1.5 Q6,-3.5 2,-4.2 Q-1,-3 -2,-4 Q-5.5,-3 -6.6,1.5 Z" fill="#2e2a22"/><circle cx="-2.2" cy="0.3" r="0.75" fill="#2a1a10"/><circle cx="2.2" cy="0.3" r="0.75" fill="#2a1a10"/><path d="M-4.5,0 H4.5" stroke="#6a4a2a" stroke-width="0.6"/><circle cx="-2.2" cy="0.5" r="1.8" fill="rgba(255,150,150,0.3)" stroke="#6a4a2a" stroke-width="0.6"/><circle cx="2.2" cy="0.5" r="1.8" fill="rgba(255,150,150,0.3)" stroke="#6a4a2a" stroke-width="0.6"/><path d="M-1.8,3.6 Q0,5 1.8,3.6" stroke="#8a4a2a" stroke-width="0.6" fill="none"/></g><g transform="translate(332.20,256.00) scale(1.0)"><path d="M-7.5,23.5 V12 Q-7.5,7 -2.5,7 H2.5 Q7.5,7 7.5,12 V23.5 Z" fill="#222326" stroke="#5a3a22" stroke-width="0.5"/><path d="M-2.8,8 L0,15 L2.8,8 Z" fill="#fff"/><path d="M-0.9,9 H0.9 L1.3,16 L0,17.5 L-1.3,16 Z" fill="#2a3a6a"/><circle cx="-6" cy="0.8" r="1.8" fill="#f4b478" stroke="#5a3a22" stroke-width="0.4"/><circle cx="6" cy="0.8" r="1.8" fill="#f4b478" stroke="#5a3a22" stroke-width="0.4"/><ellipse cx="0" cy="0.5" rx="6" ry="6.8" fill="#f4b478" stroke="#5a3a22" stroke-width="0.5"/><path d="M-6.6,1.5 Q-7.6,-8.5 0,-8.5 Q7.6,-8.5 6.6,1.5 Q6,-3.5 2,-4.2 Q-1,-3 -2,-4 Q-5.5,-3 -6.6,1.5 Z" fill="#3a2a1a"/><circle cx="-2.2" cy="0.3" r="0.75" fill="#2a1a10"/><circle cx="2.2" cy="0.3" r="0.75" fill="#2a1a10"/><path d="M-1.8,3.6 Q0,5 1.8,3.6" stroke="#8a4a2a" stroke-width="0.6" fill="none"/></g><g transform="translate(348.80,259.00) scale(0.85)"><path d="M-7.2,0 Q-7.8,-9 0,-9 Q7.8,-9 7.2,0 L7.6,7.5 Q0,9 -7.6,7.5 Z" fill="#9a5530" stroke="#5a3a22" stroke-width="0.4"/><path d="M-7.0,23.5 V12 Q-7.0,7 -2.0,7 H2.0 Q7.0,7 7.0,12 V23.5 Z" fill="#f2cde0" stroke="#5a3a22" stroke-width="0.5"/><path d="M-2.5,8 L0,11.5 L2.5,8 Z" fill="#f4b478"/><circle cx="-6" cy="0.8" r="1.8" fill="#f4b478" stroke="#5a3a22" stroke-width="0.4"/><circle cx="6" cy="0.8" r="1.8" fill="#f4b478" stroke="#5a3a22" stroke-width="0.4"/><ellipse cx="0" cy="0.5" rx="6" ry="6.8" fill="#f4b478" stroke="#5a3a22" stroke-width="0.5"/><path d="M-6.8,4 Q-7.6,-8.8 0,-8.8 Q7.6,-8.8 6.8,4 Q6,-3 1.5,-4.5 Q-3,-2.5 -6.8,4 Z" fill="#9a5530"/><circle cx="-2.2" cy="0.3" r="0.75" fill="#2a1a10"/><circle cx="2.2" cy="0.3" r="0.75" fill="#2a1a10"/><path d="M-1.8,3.6 Q0,5 1.8,3.6" stroke="#8a4a2a" stroke-width="0.6" fill="none"/></g>
<g transform="translate(553.10,240.00) scale(0.82)"><path d="M-7.2,0 Q-7.8,-9 0,-9 Q7.8,-9 7.2,0 L7.6,7.5 Q0,9 -7.6,7.5 Z" fill="#8a5a30" stroke="#5a3a22" stroke-width="0.4"/><path d="M-7.0,23.5 V12 Q-7.0,7 -2.0,7 H2.0 Q7.0,7 7.0,12 V23.5 Z" fill="#2a2f50" stroke="#5a3a22" stroke-width="0.5"/><path d="M-2.5,8 L0,11.5 L2.5,8 Z" fill="#f4b478"/><circle cx="-6" cy="0.8" r="1.8" fill="#f4b478" stroke="#5a3a22" stroke-width="0.4"/><circle cx="6" cy="0.8" r="1.8" fill="#f4b478" stroke="#5a3a22" stroke-width="0.4"/><ellipse cx="0" cy="0.5" rx="6" ry="6.8" fill="#f4b478" stroke="#5a3a22" stroke-width="0.5"/><path d="M-6.8,4 Q-7.6,-8.8 0,-8.8 Q7.6,-8.8 6.8,4 Q6,-3 1.5,-4.5 Q-3,-2.5 -6.8,4 Z" fill="#8a5a30"/><circle cx="-2.2" cy="0.3" r="0.75" fill="#2a1a10"/><circle cx="2.2" cy="0.3" r="0.75" fill="#2a1a10"/><path d="M-1.8,3.6 Q0,5 1.8,3.6" stroke="#8a4a2a" stroke-width="0.6" fill="none"/></g><g transform="translate(567.40,237.00) scale(0.9)"><path d="M-6.5,23.5 V12 Q-6.5,7 -1.5,7 H1.5 Q6.5,7 6.5,12 V23.5 Z" fill="#26305a" stroke="#5a3a22" stroke-width="0.5"/><path d="M-2.8,8 L0,15 L2.8,8 Z" fill="#fff"/><path d="M-0.9,9 H0.9 L1.3,16 L0,17.5 L-1.3,16 Z" fill="#b02020"/><circle cx="-6" cy="0.8" r="1.8" fill="#f4b478" stroke="#5a3a22" stroke-width="0.4"/><circle cx="6" cy="0.8" r="1.8" fill="#f4b478" stroke="#5a3a22" stroke-width="0.4"/><ellipse cx="0" cy="0.5" rx="6" ry="6.8" fill="#f4b478" stroke="#5a3a22" stroke-width="0.5"/><path d="M-6.6,1.5 Q-7.6,-8.5 0,-8.5 Q7.6,-8.5 6.6,1.5 Q6,-3.5 2,-4.2 Q-1,-3 -2,-4 Q-5.5,-3 -6.6,1.5 Z" fill="#5a3a22"/><circle cx="-2.2" cy="0.3" r="0.75" fill="#2a1a10"/><circle cx="2.2" cy="0.3" r="0.75" fill="#2a1a10"/><path d="M-1.8,3.6 Q0,5 1.8,3.6" stroke="#8a4a2a" stroke-width="0.6" fill="none"/></g><g transform="translate(530.10,254.40) scale(1.0)"><path d="M-7.0,23.5 V12 Q-7.0,7 -2.0,7 H2.0 Q7.0,7 7.0,12 V23.5 Z" fill="#6ab050" stroke="#5a3a22" stroke-width="0.5"/><path d="M-3.5,8 L0,13 L3.5,8 Z" fill="#f4e6d0"/><circle cx="-6" cy="0.8" r="1.8" fill="#f4b478" stroke="#5a3a22" stroke-width="0.4"/><circle cx="6" cy="0.8" r="1.8" fill="#f4b478" stroke="#5a3a22" stroke-width="0.4"/><ellipse cx="0" cy="0.5" rx="6" ry="6.8" fill="#f4b478" stroke="#5a3a22" stroke-width="0.5"/><path d="M-6.6,1.5 Q-7.6,-8.5 0,-8.5 Q7.6,-8.5 6.6,1.5 Q6,-3.5 2,-4.2 Q-1,-3 -2,-4 Q-5.5,-3 -6.6,1.5 Z" fill="#4a3a2a"/><circle cx="-2.2" cy="0.3" r="0.75" fill="#2a1a10"/><circle cx="2.2" cy="0.3" r="0.75" fill="#2a1a10"/><path d="M-1.8,3.6 Q0,5 1.8,3.6" stroke="#8a4a2a" stroke-width="0.6" fill="none"/></g><g transform="translate(546.00,259.00) scale(0.82)"><path d="M-7.2,0 Q-7.8,-9 0,-9 Q7.8,-9 7.2,0 L7.6,7.5 Q0,9 -7.6,7.5 Z" fill="#8a5a3a" stroke="#5a3a22" stroke-width="0.4"/><path d="M-7.0,23.5 V12 Q-7.0,7 -2.0,7 H2.0 Q7.0,7 7.0,12 V23.5 Z" fill="#b8489a" stroke="#5a3a22" stroke-width="0.5"/><path d="M-2.5,8 L0,11.5 L2.5,8 Z" fill="#f4b478"/><circle cx="-6" cy="0.8" r="1.8" fill="#f4b478" stroke="#5a3a22" stroke-width="0.4"/><circle cx="6" cy="0.8" r="1.8" fill="#f4b478" stroke="#5a3a22" stroke-width="0.4"/><ellipse cx="0" cy="0.5" rx="6" ry="6.8" fill="#f4b478" stroke="#5a3a22" stroke-width="0.5"/><path d="M-6.8,4 Q-7.6,-8.8 0,-8.8 Q7.6,-8.8 6.8,4 Q6,-3 1.5,-4.5 Q-3,-2.5 -6.8,4 Z" fill="#8a5a3a"/><circle cx="-2.2" cy="0.3" r="0.75" fill="#2a1a10"/><circle cx="2.2" cy="0.3" r="0.75" fill="#2a1a10"/><path d="M-1.8,3.6 Q0,5 1.8,3.6" stroke="#8a4a2a" stroke-width="0.6" fill="none"/></g><g transform="translate(561.00,256.00) scale(0.84)"><path d="M-7.2,0 Q-7.8,-9 0,-9 Q7.8,-9 7.2,0 L7.6,7.5 Q0,9 -7.6,7.5 Z" fill="#7a5a40" stroke="#5a3a22" stroke-width="0.4"/><path d="M-7.0,23.5 V12 Q-7.0,7 -2.0,7 H2.0 Q7.0,7 7.0,12 V23.5 Z" fill="#a8caf0" stroke="#5a3a22" stroke-width="0.5"/><path d="M-2.5,8 L0,11.5 L2.5,8 Z" fill="#f4b478"/><circle cx="-6" cy="0.8" r="1.8" fill="#f4b478" stroke="#5a3a22" stroke-width="0.4"/><circle cx="6" cy="0.8" r="1.8" fill="#f4b478" stroke="#5a3a22" stroke-width="0.4"/><ellipse cx="0" cy="0.5" rx="6" ry="6.8" fill="#f4b478" stroke="#5a3a22" stroke-width="0.5"/><path d="M-6.8,4 Q-7.6,-8.8 0,-8.8 Q7.6,-8.8 6.8,4 Q6,-3 1.5,-4.5 Q-3,-2.5 -6.8,4 Z" fill="#7a5a40"/><circle cx="-2.2" cy="0.3" r="0.75" fill="#2a1a10"/><circle cx="2.2" cy="0.3" r="0.75" fill="#2a1a10"/><path d="M-1.8,3.6 Q0,5 1.8,3.6" stroke="#8a4a2a" stroke-width="0.6" fill="none"/></g><g transform="translate(577.80,252.00) scale(1.0)"><path d="M-7.5,23.5 V12 Q-7.5,7 -2.5,7 H2.5 Q7.5,7 7.5,12 V23.5 Z" fill="#8c8c8c" stroke="#5a3a22" stroke-width="0.5"/><path d="M-2.8,8 L0,15 L2.8,8 Z" fill="#fff"/><path d="M-0.9,9 H0.9 L1.3,16 L0,17.5 L-1.3,16 Z" fill="#6a5a30"/><circle cx="-6" cy="0.8" r="1.8" fill="#f4b478" stroke="#5a3a22" stroke-width="0.4"/><circle cx="6" cy="0.8" r="1.8" fill="#f4b478" stroke="#5a3a22" stroke-width="0.4"/><ellipse cx="0" cy="0.5" rx="6" ry="6.8" fill="#f4b478" stroke="#5a3a22" stroke-width="0.5"/><path d="M-6.6,1.5 Q-7.6,-8.5 0,-8.5 Q7.6,-8.5 6.6,1.5 Q6,-3.5 2,-4.2 Q-1,-3 -2,-4 Q-5.5,-3 -6.6,1.5 Z" fill="#8a8a80"/><circle cx="-2.2" cy="0.3" r="0.75" fill="#2a1a10"/><circle cx="2.2" cy="0.3" r="0.75" fill="#2a1a10"/><path d="M-4.5,0 H4.5" stroke="#6a4a2a" stroke-width="0.6"/><circle cx="-2.2" cy="0.5" r="1.8" fill="rgba(255,150,150,0.3)" stroke="#6a4a2a" stroke-width="0.6"/><circle cx="2.2" cy="0.5" r="1.8" fill="rgba(255,150,150,0.3)" stroke="#6a4a2a" stroke-width="0.6"/><path d="M-1.8,3.6 Q0,5 1.8,3.6" stroke="#8a4a2a" stroke-width="0.6" fill="none"/></g><g transform="translate(525.30,271.90) scale(0.58)"><path d="M-7.2,0 Q-7.8,-9 0,-9 Q7.8,-9 7.2,0 L7.6,7.5 Q0,9 -7.6,7.5 Z" fill="#7a4a2a" stroke="#5a3a22" stroke-width="0.4"/><path d="M-6.0,23.5 V12 Q-6.0,7 -1.0,7 H1.0 Q6.0,7 6.0,12 V23.5 Z" fill="#f0a040" stroke="#5a3a22" stroke-width="0.5"/><path d="M-2.5,8 L0,11.5 L2.5,8 Z" fill="#f4b478"/><circle cx="-6" cy="0.8" r="1.8" fill="#f4b478" stroke="#5a3a22" stroke-width="0.4"/><circle cx="6" cy="0.8" r="1.8" fill="#f4b478" stroke="#5a3a22" stroke-width="0.4"/><ellipse cx="0" cy="0.5" rx="6" ry="6.8" fill="#f4b478" stroke="#5a3a22" stroke-width="0.5"/><path d="M-6.8,4 Q-7.6,-8.8 0,-8.8 Q7.6,-8.8 6.8,4 Q6,-3 1.5,-4.5 Q-3,-2.5 -6.8,4 Z" fill="#7a4a2a"/><circle cx="-2.2" cy="0.3" r="0.75" fill="#2a1a10"/><circle cx="2.2" cy="0.3" r="0.75" fill="#2a1a10"/><path d="M-1.8,3.6 Q0,5 1.8,3.6" stroke="#8a4a2a" stroke-width="0.6" fill="none"/></g><g transform="translate(536.40,271.90) scale(0.58)"><path d="M-6.0,23.5 V12 Q-6.0,7 -1.0,7 H1.0 Q6.0,7 6.0,12 V23.5 Z" fill="#a8d870" stroke="#5a3a22" stroke-width="0.5"/><path d="M-3.5,8 L0,13 L3.5,8 Z" fill="#f4e6d0"/><circle cx="-6" cy="0.8" r="1.8" fill="#f4b478" stroke="#5a3a22" stroke-width="0.4"/><circle cx="6" cy="0.8" r="1.8" fill="#f4b478" stroke="#5a3a22" stroke-width="0.4"/><ellipse cx="0" cy="0.5" rx="6" ry="6.8" fill="#f4b478" stroke="#5a3a22" stroke-width="0.5"/><path d="M-6.6,1.5 Q-7.6,-8.5 0,-8.5 Q7.6,-8.5 6.6,1.5 Q6,-3.5 2,-4.2 Q-1,-3 -2,-4 Q-5.5,-3 -6.6,1.5 Z" fill="#6a4a2a"/><circle cx="-2.2" cy="0.3" r="0.75" fill="#2a1a10"/><circle cx="2.2" cy="0.3" r="0.75" fill="#2a1a10"/><path d="M-1.8,3.6 Q0,5 1.8,3.6" stroke="#8a4a2a" stroke-width="0.6" fill="none"/></g>
</svg>
</body></html>
